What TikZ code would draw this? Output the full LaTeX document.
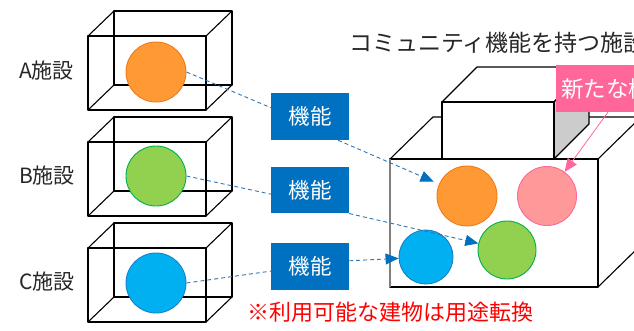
\documentclass[tikz,border=0pt]{standalone}
\usepackage{fontspec}
\setmainfont{Noto Sans CJK JP}
\usetikzlibrary{arrows.meta,calc}
\definecolor{kblue}{HTML}{0070C0}
\definecolor{dashblue}{HTML}{2E75B6}
\definecolor{orF}{HTML}{FF9933}
\definecolor{orD}{HTML}{F07A1A}
\definecolor{grF}{HTML}{92D050}
\definecolor{grD}{HTML}{00B050}
\definecolor{blF}{HTML}{00B0F0}
\definecolor{blD}{HTML}{1A7FC8}
\definecolor{pkF}{HTML}{FF9999}
\definecolor{pkD}{HTML}{FF6699}
\definecolor{pkL}{HTML}{FF6699}
\definecolor{sideg}{HTML}{CCCCCC}
\tikzset{
  edge/.style={draw=black,line width=1.1pt,line join=round},
  ball/.style={circle,minimum size=#1,inner sep=0pt,line width=0.9pt},
  kbox/.style={fill=kblue,text=white,minimum width=78pt,minimum height=46.7pt,inner sep=0pt,font=\fontsize{21.5}{24}\selectfont},
  lbl/.style={font=\fontsize{21}{24}\selectfont,text=black!85,inner sep=0pt},
  dl/.style={draw=dashblue,line width=0.9pt,dash pattern=on 4pt off 3pt},
  dla/.style={dl,-{Triangle[length=13pt,width=11pt,fill=kblue,color=kblue]}},
}
\begin{document}
\begin{tikzpicture}[x=1pt,y=-1pt]
\useasboundingbox (0,0) rectangle (634,330);
\begin{scope}
\clip (0,0) rectangle (634,330);
% left wireframe boxes
\foreach \y in {36,142,248}{
  \draw[edge] (88,\y) rectangle (206,\y+74);
  \draw[edge] (114,\y-25) rectangle (232,\y+49);
  \draw[edge] (88,\y) -- (114,\y-25);
  \draw[edge] (206,\y) -- (232,\y-25);
  \draw[edge] (88,\y+74) -- (114,\y+49);
  \draw[edge] (206,\y+74) -- (232,\y+49);
}
\node[ball=60pt,fill=orF,draw=orD] (aC) at (156,72) {};
\node[ball=60pt,fill=grF,draw=grD] (bC) at (156,176) {};
\node[ball=60pt,fill=blF,draw=blD] (cC) at (156,283) {};
\node[lbl,anchor=west] (aL) at (19,71) {A施設};
\node[lbl,anchor=west] (bL) at (19,176) {B施設};
\node[lbl,anchor=west] (cL) at (19,282) {C施設};

% right building
\draw[edge,fill=white] (390,159) -- (433,117) -- (680,117) -- (641,159) -- cycle;
\draw[edge,fill=white] (598,159) -- (641,117) -- (641,245) -- (598,287) -- cycle;
\draw[edge,fill=white] (390,159) rectangle (598,287);
\draw[draw=gray,line width=1.6pt] (390,159) -- (390,287);
% small upper box
\draw[edge,fill=white] (442,102) -- (477,67) -- (589,67) -- (554,102) -- cycle;
\draw[edge,fill=sideg] (554,102) -- (589,67) -- (589,124) -- (554,159) -- cycle;
\draw[edge,fill=white] (442,102) rectangle (554,159);

\node[ball=60pt,fill=orF,draw=orD] (oR) at (467,196) {};
\node[ball=59pt,fill=pkF,draw=pkD] (pR) at (547,196) {};
\node[ball=58pt,fill=grF,draw=grD] (gR) at (507,250) {};
\node[ball=54pt,fill=blF,draw=blD] (uR) at (426,257) {};

% title and notes
\node[font=\fontsize{23}{26}\selectfont,text=black!85,inner sep=0pt,anchor=west] (title) at (349,43) {コミュニティ機能を持つ施設};
\node[font=\fontsize{22}{24}\selectfont,text=red,anchor=west,inner sep=0pt] (note) at (247,312) {※利用可能な建物は用途転換};
\node[fill=pkL,text=white,anchor=north west,minimum height=46.7pt,inner xsep=5pt,inner ysep=0pt,font=\fontsize{22.5}{25}\selectfont] (pl) at (556,65) {新たな機能};

% function boxes
\node[kbox] (k1) at (310,116.7) {機能};
\node[kbox] (k2) at (310,190) {機能};
\node[kbox] (k3) at (310,266.3) {機能};

% connectors
\draw[dl] (aC.east) -- (k1.167);
\draw[dl] (bC.east) -- (k2.186);
\draw[dl] (cC.east) -- (k3.187);
\draw[dla,shorten >=6pt] (k1.-40) -- (oR);
\draw[dla] (k2.south east) -- (gR);
\draw[dla] (k3.8) -- (uR);
\draw[draw=pkD,line width=0.8pt,-{Triangle[length=13pt,width=11pt,fill=pkD,color=pkD]}] ($(pl.south west)+(52,0)$) -- (pR);
\end{scope}
\end{tikzpicture}
\end{document}
